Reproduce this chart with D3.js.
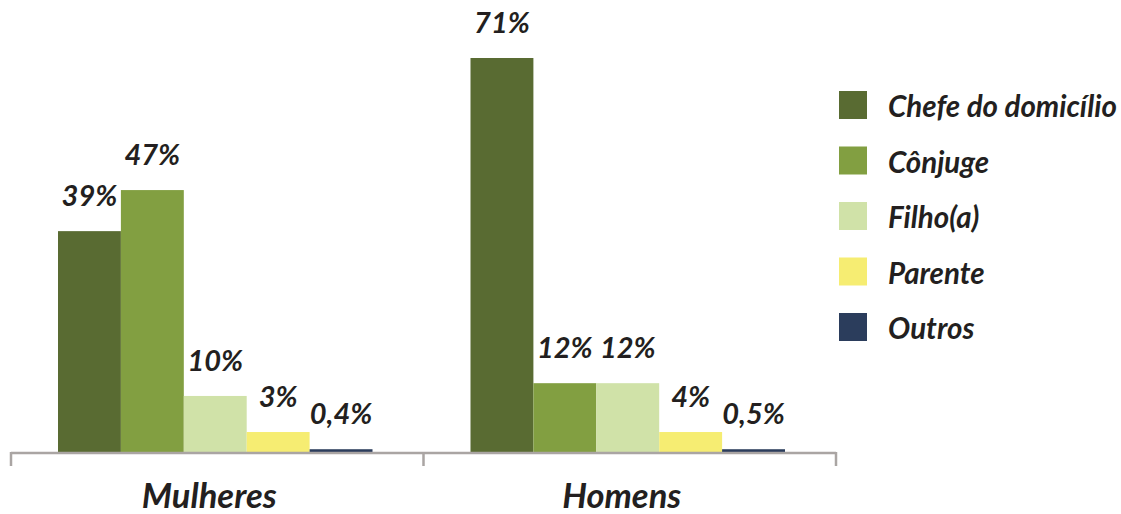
<!DOCTYPE html>
<html>
<head>
<meta charset="utf-8">
<script src="https://cdn.jsdelivr.net/npm/d3@7"></script>
<style>
  html, body { margin: 0; padding: 0; background: #fff; }
  svg { display: block; font-family: Lato, "Open Sans", sans-serif; font-weight: 700; font-style: italic; }
</style>
</head>
<body>
<script>
var groups = ['Mulheres', 'Homens'];
var series = ['Chefe do domicílio', 'Cônjuge', 'Filho(a)', 'Parente', 'Outros'];
var colors = ['#596b32', '#829f41', '#d0e2a8', '#f6ed72', '#2b3d5c'];
// bar heights (percent)
var mulheres = [39.8, 47.2, 10.1, 3.6, 0.5];
var homens = [71, 12.4, 12.4, 3.6, 0.5];
// printed labels
var mulheresLabels = ['39%', '47%', '10%', '3%', '0,4%'];
var homensLabels = ['71%', '12%', '12%', '4%', '0,5%'];

var width = 1121,
    height = 514,
    baseline = 452,
    inset = 47;

var rows = [
  {group: 'Mulheres', values: mulheres, labels: mulheresLabels},
  {group: 'Homens', values: homens, labels: homensLabels}
];

var svg = d3.select('body').append('svg')
  .attr('width', width)
  .attr('height', height);

var x0 = d3.scaleBand()
  .domain(groups)
  .range([11, 836])
  .padding(0);

var x1 = d3.scaleBand()
  .domain(series)
  .range([inset, x0.bandwidth() - inset - 4])
  .padding(0);

var y = d3.scaleLinear()
  .domain([0, 71])
  .range([baseline, 58]);

var color = d3.scaleOrdinal().domain(series).range(colors);

var group = svg.selectAll('g.group')
  .data(rows)
  .enter()
  .append('g')
  .attr('class', 'group')
  .attr('transform', function(d) { return 'translate(' + x0(d.group) + ',0)'; });

var cells = group.selectAll('g.cell')
  .data(function(d) {
    return series.map(function(s, i) {
      return {key: s, value: d.values[i], label: d.labels[i]};
    });
  })
  .enter()
  .append('g')
  .attr('class', 'cell');

cells.append('rect')
  .attr('x', function(d) { return x1(d.key); })
  .attr('width', x1.bandwidth())
  .attr('y', function(d) { return y(d.value); })
  .attr('height', function(d) { return baseline - y(d.value); })
  .attr('fill', function(d) { return color(d.key); });

cells.append('text')
  .attr('x', function(d) { return x1(d.key) + x1.bandwidth() / 2; })
  .attr('y', function(d) { return y(d.value) - 25; })
  .attr('text-anchor', 'middle')
  .attr('font-size', 29)
  .attr('fill', '#231f20')
  .text(function(d) { return d.label; });

// axis: baseline with ticks at the group boundaries
var axis = svg.append('g')
  .attr('class', 'axis')
  .attr('stroke', '#aaa5a3')
  .attr('stroke-width', 2.5)
  .attr('fill', 'none');

axis.append('line')
  .attr('x1', x0.range()[0])
  .attr('x2', x0.range()[1])
  .attr('y1', baseline + 1)
  .attr('y2', baseline + 1);

var tickPos = groups.map(function(g) { return x0(g); }).concat([x0.range()[1]]);
axis.selectAll('line.tick')
  .data(tickPos)
  .enter()
  .append('line')
  .attr('class', 'tick')
  .attr('x1', function(d) { return d; })
  .attr('x2', function(d) { return d; })
  .attr('y1', baseline)
  .attr('y2', baseline + 14);

svg.selectAll('text.category')
  .data(groups)
  .enter()
  .append('text')
  .attr('class', 'category')
  .attr('x', function(d) { return x0(d) + x0.bandwidth() / 2 - 8; })
  .attr('y', 508)
  .attr('text-anchor', 'middle')
  .attr('font-size', 34.5)
  .attr('fill', '#231f20')
  .text(function(d) { return d; });

// legend
var legend = svg.selectAll('g.legend')
  .data(series)
  .enter()
  .append('g')
  .attr('class', 'legend')
  .attr('transform', function(d, i) { return 'translate(839,' + (91 + i * 55.5) + ')'; });

legend.append('rect')
  .attr('width', 28)
  .attr('height', 28)
  .attr('fill', function(d) { return color(d); });

legend.append('text')
  .attr('x', 49)
  .attr('y', 26)
  .attr('font-size', 29.5)
  .attr('fill', '#231f20')
  .text(function(d) { return d; });
</script>
</body>
</html>
